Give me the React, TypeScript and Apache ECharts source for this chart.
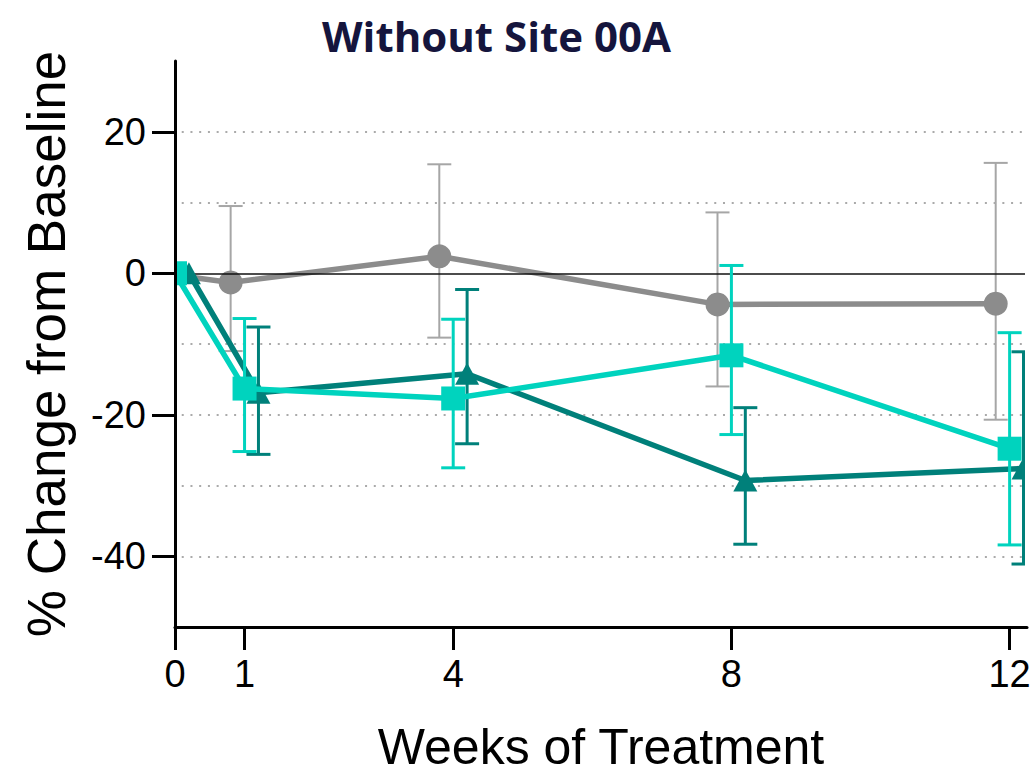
import React, { useEffect, useRef } from "react";
import * as echarts from "echarts";

// ---- data ----
const weekTicks = [0, 1, 4, 8, 12];
const yTickLabels = [20, 0, -20, -40];
const dottedGridValues = [20, 10, -10, -20, -30, -40];

// circle group (grey), plotted slightly left of each visit
const circleWeeks = [-0.2, 0.8, 3.8, 7.8, 11.8];
const circleMean = [0, -1.3, 2.4, -4.4, -4.3];
const circleUpper = [null, 9.5, 15.4, 8.6, 15.6];
const circleLower = [null, -11.0, -9.1, -16.0, -20.7];

// square group (light teal), plotted on each visit
const squareWeeks = [0, 1, 4, 8, 12];
const squareMean = [0, -16.3, -17.7, -11.6, -24.8];
const squareUpper = [null, -6.4, -6.5, 1.1, -8.4];
const squareLower = [null, -25.2, -27.5, -22.8, -38.4];

// triangle group (dark teal), plotted slightly right of each visit
const triangleWeeks = [0.2, 1.2, 4.2, 8.2, 12.2];
const triangleMean = [0, -16.9, -14.2, -29.3, -27.6];
const triangleUpper = [null, -7.6, -2.3, -19.0, -11.1];
const triangleLower = [null, -25.6, -24.1, -38.3, -41.1];

const GREY = "#8c8c8c";
const GREY_ERR = "#a6a6a6";
const LIGHT = "#00d3be";
const DARK = "#00807a";
const FONT = "'Liberation Sans', Arial, sans-serif";

function pairs(xs: number[], ys: number[]) {
  return xs.map((x, i) => [x, ys[i]]);
}

function errorSeries(
  name: string,
  weeks: number[],
  lower: (number | null)[],
  upper: (number | null)[],
  color: string,
  width: number,
  z: number
) {
  const data: number[][] = [];
  weeks.forEach((w, i) => {
    const lo = lower[i];
    const hi = upper[i];
    if (lo != null && hi != null) data.push([w, lo, hi]);
  });
  return {
    type: "custom",
    name,
    z,
    clip: false,
    silent: true,
    data,
    encode: { x: 0, y: [1, 2] },
    renderItem: (_params: any, api: any) => {
      const x = api.value(0);
      const top = api.coord([x, api.value(2)]);
      const bot = api.coord([x, api.value(1)]);
      const cap = 12;
      const style = { stroke: color, lineWidth: width, fill: "none" };
      return {
        type: "group",
        children: [
          { type: "line", shape: { x1: top[0], y1: top[1], x2: bot[0], y2: bot[1] }, style },
          { type: "line", shape: { x1: top[0] - cap, y1: top[1], x2: top[0] + cap, y2: top[1] }, style },
          { type: "line", shape: { x1: bot[0] - cap, y1: bot[1], x2: bot[0] + cap, y2: bot[1] }, style },
        ],
      };
    },
  };
}

function meanSeries(
  name: string,
  weeks: number[],
  means: number[],
  color: string,
  symbol: string,
  symbolSize: number | number[],
  z: number
) {
  return {
    type: "line",
    name,
    z,
    clip: false,
    silent: true,
    data: pairs(weeks, means),
    symbol,
    symbolSize,
    showSymbol: true,
    showAllSymbol: true,
    itemStyle: { color, opacity: 1 },
    lineStyle: { color, width: 5.5 },
    emphasis: { disabled: true },
  };
}

export default function App() {
  const ref = useRef<HTMLDivElement>(null);

  useEffect(() => {
    if (!ref.current) return;
    const chart = echarts.init(ref.current, undefined, { renderer: "svg" });

    const option: any = {
      animation: false,
      backgroundColor: "#ffffff",
      title: {
        text: "Without Site 00A",
        left: 317,
        top: 9,
        textStyle: {
          fontFamily: "'Open Sans', sans-serif",
          fontWeight: "bold",
          fontSize: 42,
          color: "#15153d",
        },
      },
      grid: {
        left: 175,
        right: 6,
        top: 61,
        bottom: 148,
        containLabel: false,
        outerBoundsMode: "none",
      },
      xAxis: {
        type: "value",
        min: 0,
        max: 12.25,
        interval: 1,
        z: 100,
        name: "Weeks of Treatment",
        nameLocation: "middle",
        nameGap: 99.5,
        nameMoveOverlap: false,
        nameTextStyle: { fontFamily: FONT, fontSize: 50, lineHeight: 40, color: "#000" },
        axisLine: { show: true, onZero: false, lineStyle: { color: "#000", width: 3 } },
        axisTick: {
          show: true,
          length: 23,
          inside: false,
          customValues: weekTicks,
          lineStyle: { color: "#000", width: 3 },
        },
        axisLabel: {
          show: true,
          margin: 28,
          customValues: weekTicks,
          fontFamily: FONT,
          fontSize: 38,
          color: "#000",
          showMinLabel: true,
          showMaxLabel: true,
        },
        splitLine: { show: false },
      },
      yAxis: {
        type: "value",
        min: -50,
        max: 30,
        interval: 10,
        z: 100,
        name: "% Change from Baseline",
        nameLocation: "middle",
        nameGap: 102,
        nameRotate: 90,
        nameMoveOverlap: false,
        nameTextStyle: { fontFamily: FONT, fontSize: 53, color: "#000" },
        axisLine: { show: true, onZero: false, lineStyle: { color: "#000", width: 3 } },
        axisTick: {
          show: true,
          length: 23,
          inside: false,
          customValues: yTickLabels,
          lineStyle: { color: "#000", width: 3 },
        },
        axisLabel: {
          show: true,
          margin: 29,
          customValues: yTickLabels,
          fontFamily: FONT,
          fontSize: 38,
          color: "#000",
        },
        splitLine: { show: false },
      },
      graphic: [
        {
          type: "rect",
          z: 50,
          silent: true,
          shape: { x: 0, y: 0, width: 174, height: 775 },
          style: { fill: "#ffffff" },
        },
        {
          type: "rect",
          z: 50,
          silent: true,
          shape: { x: 1025, y: 0, width: 10, height: 775 },
          style: { fill: "#ffffff" },
        },
      ],
      series: [
        {
          type: "line",
          name: "gridlines",
          z: 1,
          silent: true,
          data: [],
          markLine: {
            silent: true,
            symbol: ["none", "none"],
            label: { show: false },
            emphasis: { disabled: true },
            lineStyle: { color: "#aaaaaa", width: 2, type: [2, 6.73], dashOffset: 2.4 },
            data: [
              ...dottedGridValues.map((v) => ({ yAxis: v })),
              { yAxis: 0, lineStyle: { color: "#111111", width: 1.5, type: "solid" } },
            ],
          },
        },
        errorSeries("Circle group error", circleWeeks, circleLower, circleUpper, GREY_ERR, 2, 2),
        meanSeries("Circle group", circleWeeks, circleMean, GREY, "circle", 24, 3),
        errorSeries("Triangle group error", triangleWeeks, triangleLower, triangleUpper, DARK, 3, 4),
        meanSeries("Triangle group", triangleWeeks, triangleMean, DARK, "triangle", [24, 22], 5),
        errorSeries("Square group error", squareWeeks, squareLower, squareUpper, LIGHT, 3, 6),
        meanSeries("Square group", squareWeeks, squareMean, LIGHT, "rect", 24, 7),
      ],
    };

    chart.setOption(option);
    return () => {
      chart.dispose();
    };
  }, []);

  return (
    <div
      ref={ref}
      style={{ position: "absolute", left: 0, top: 0, width: 1033, height: 775 }}
    />
  );
}
